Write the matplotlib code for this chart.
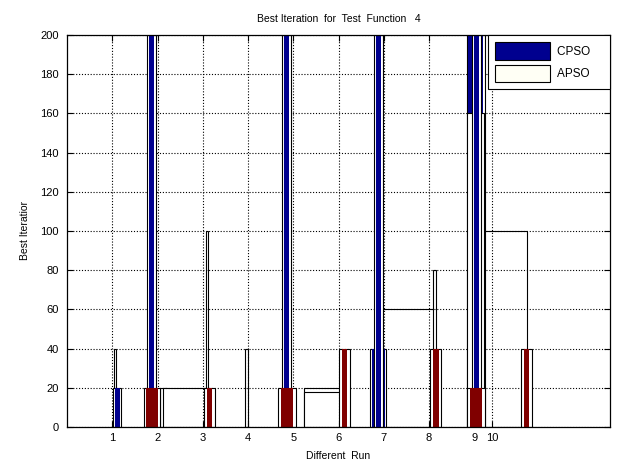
import matplotlib
matplotlib.use('Agg')
import matplotlib.pyplot as plt
from matplotlib.patches import Patch

plt.rcParams['font.family'] = ['Liberation Sans', 'DejaVu Sans']
plt.rcParams['font.size'] = 7.5

NAVY = '#00008f'
DARKRED = '#800000'

run_ticks = [1, 2, 3, 4, 5, 6, 7, 8, 9, 9.4]
run_labels = ['1', '2', '3', '4', '5', '6', '7', '8', '9', '10']

# APSO (white) bars: centre, width, height
apso_x = [1.06, 2.14, 2.63, 3.10, 3.97, 5.65, 5.65, 7.25, 7.51, 8.12, 9.65]
apso_w = [0.05, 0.15, 1.01, 0.05, 0.07, 0.82, 0.82, 0.09, 1.19, 0.05, 1.01]
apso_h = [40, 20, 20, 100, 40, 20, 18, 20, 60, 80, 100]

# APSO bar sitting over the wide CPSO bar of run 9
apso9_x = [9.03]
apso9_h = [160]

# CPSO wide lower bars
cpso_low_x = [1.11, 6.88, 9.03]
cpso_low_h = [20, 40, 200]

# CPSO thin tall bars
cpso_x = [1.86, 4.86, 6.89, 9.04]
cpso_h = [200, 200, 200, 200]

# dark red bars
red_x = [1.88, 3.15, 4.86, 6.13, 8.15, 9.04, 10.16]
red_h = [20, 20, 20, 40, 40, 20, 40]
red_w = [0.25, 0.13, 0.26, 0.11, 0.13, 0.26, 0.12]


def halo_bars(ax, x, h, w, color, pad, z):
    # white bar with black edge behind, coloured core on top
    ax.bar(x, h, [wi + pad for wi in w], color='white', edgecolor='black',
           linewidth=0.8, zorder=z)
    ax.bar(x, h, w, color=color, linewidth=0, zorder=z + 0.1)


fig = plt.figure(figsize=(6.19, 4.66), dpi=100)
ax = fig.add_axes([67 / 619, 39 / 466, 543 / 619, 392 / 466])

ax.bar(apso_x, apso_h, apso_w, color='white', edgecolor='black',
       linewidth=0.8, zorder=1)

halo_bars(ax, cpso_low_x, cpso_low_h, [0.11, 0.29, 0.33], NAVY, 0.07, 2)
ax.bar(apso9_x, apso9_h, 0.36, color='white', edgecolor='black',
       linewidth=0.8, zorder=3)
halo_bars(ax, cpso_x, cpso_h, [0.11] * 4, NAVY, 0.09, 4)
halo_bars(ax, red_x, red_h, red_w, DARKRED, 0.12, 5)

ax.set_axisbelow('line')
ax.grid(True, linestyle=(0, (1, 1.6)), color='black', linewidth=0.8)

ax.set_xlim(0, 12)
ax.set_ylim(0, 200)
ax.set_xticks(run_ticks, run_labels)
ax.set_yticks(range(0, 201, 20))
ax.tick_params(direction='in', top=True, right=True, length=4, width=0.8,
               labelsize=8)
ax.tick_params(axis='y', pad=6)
ax.tick_params(axis='x', pad=4)
for s in ax.spines.values():
    s.set_linewidth(0.9)
    s.set_zorder(6)

ax.set_title('Best Iteration  for  Test  Function   4', fontsize=7.5, pad=9)
ax.set_xlabel('Different  Run', fontsize=7.5, labelpad=6)
ax.set_ylabel('Best Iteratior', fontsize=7.5, labelpad=7)

handles = [Patch(facecolor=NAVY, edgecolor='black', linewidth=0.8),
           Patch(facecolor='#fffff5', edgecolor='black', linewidth=0.8)]
leg = ax.legend(handles, ['CPSO    ', 'APSO    '], loc='upper right',
                bbox_to_anchor=(1.0, 1.0), borderaxespad=0, fancybox=False,
                framealpha=1, edgecolor='black', handlelength=4.6,
                handleheight=1.9, handletextpad=0.6, borderpad=0.6,
                labelspacing=0.45, fontsize=8.5)
leg.get_frame().set_linewidth(0.8)
leg.set_zorder(7)

fig.savefig('out.png', dpi=100)
